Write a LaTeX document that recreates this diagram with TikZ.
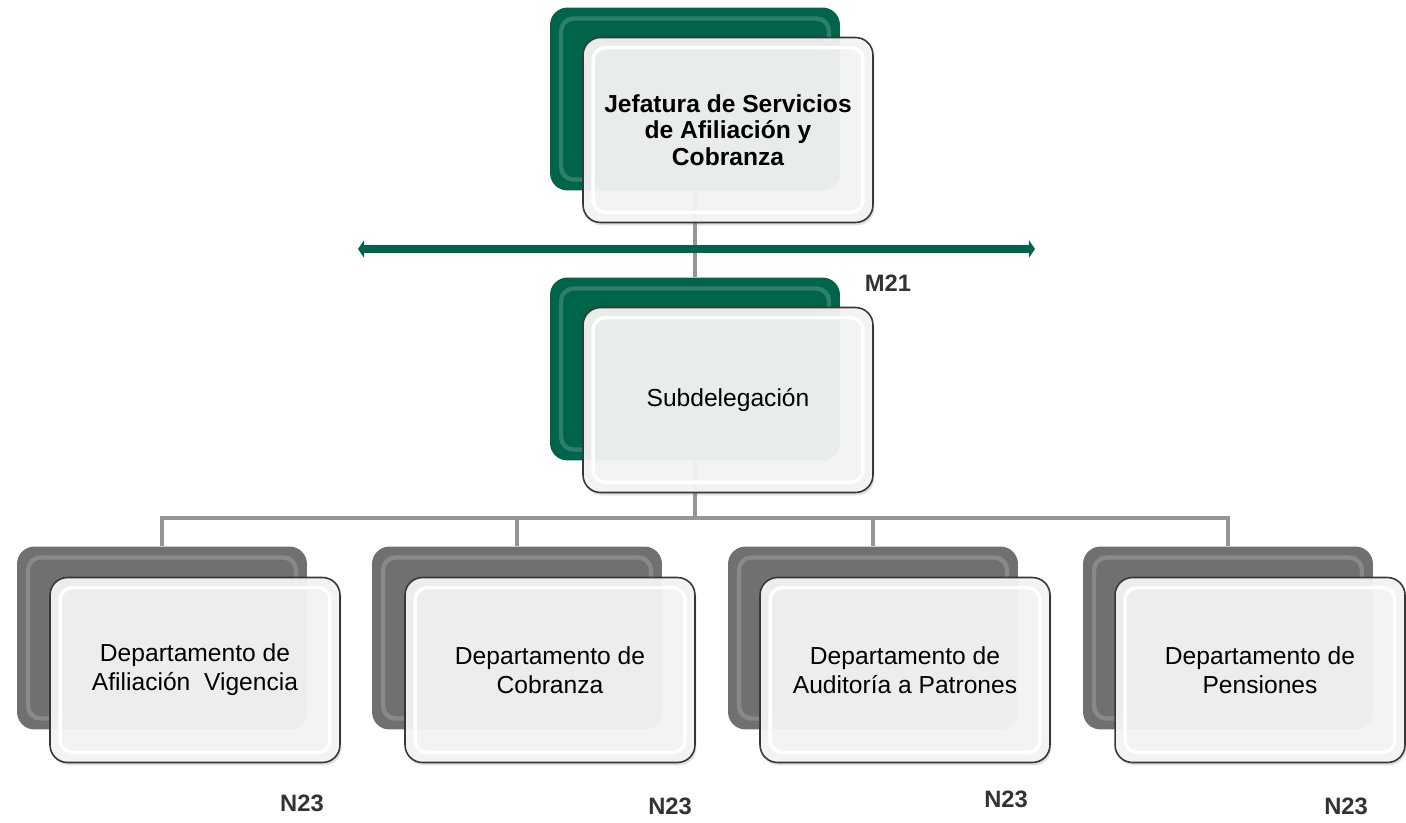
\documentclass[tikz,border=0pt]{standalone}
\usepackage{fontspec}
\setmainfont{Liberation Sans}
\usepackage{xcolor}
\usetikzlibrary{arrows.meta,positioning,calc,shadows}
\pgfdeclarelayer{background}
\pgfsetlayers{background,main}
\definecolor{imssgreen}{RGB}{0,100,74}
\definecolor{backgray}{RGB}{112,112,112}
\definecolor{linkgray}{RGB}{150,150,150}
\definecolor{frontfill}{RGB}{243,244,243}
\definecolor{frontborder}{RGB}{55,55,55}

\begin{document}
\begin{tikzpicture}[x=0.02cm, y=-0.02cm]
    \tikzstyle{back}=[rounded corners=0.35cm, minimum width=5.8cm, minimum height=3.66cm, inner sep=0pt,
        path picture={\draw[white, opacity=0.18, line width=2.5pt, rounded corners=0.25cm]
            ($(path picture bounding box.south west)+(0.22cm,0.22cm)$) rectangle ($(path picture bounding box.north east)+(-0.22cm,-0.22cm)$);}]
    \tikzstyle{front}=[draw=frontborder, line width=0.9pt, rounded corners=0.35cm, minimum width=5.8cm, minimum height=3.7cm,
        fill=frontfill, fill opacity=0.95, text opacity=1, align=center, font=\fontsize{14}{16.5}\selectfont,
        drop shadow={shadow xshift=0.8pt, shadow yshift=-1.6pt, opacity=0.25},
        path picture={\draw[white, line width=2pt, rounded corners=0.25cm]
            ($(path picture bounding box.south west)+(0.2cm,0.2cm)$) rectangle ($(path picture bounding box.north east)+(-0.2cm,-0.2cm)$);}]
    \tikzstyle{level}=[font=\fontsize{13.5}{16}\selectfont\bfseries, text=black!80]
    \tikzstyle{link}=[draw=linkgray, line width=2.3pt]
    \useasboundingbox (0,0) rectangle (1406,822);
    % jefatura y subdelegacion
    \node[back, fill=imssgreen] (jefB) at (695,99) {};
    \node[front, font=\fontsize{14}{15}\selectfont\bfseries] (jef) at (728,130) {Jefatura de Servicios\\de Afiliación y\\Cobranza};
    \node[back, fill=imssgreen] (subB) at (695,369) {};
    \node[front] (sub) at (728,400) {Subdelegación};
    \node[level] (m21) at (888,283) {M21};
    % departamentos
    \node[back, fill=backgray] (afiB) at (162,638) {};
    \node[front] (afi) at (195,670) {Departamento de\\Afiliación\ \ Vigencia};
    \node[back, fill=backgray] (cobB) at (517,638) {};
    \node[front] (cob) at (550,670) {Departamento de\\Cobranza};
    \node[back, fill=backgray] (audB) at (873,638) {};
    \node[front] (aud) at (905,670) {Departamento de\\Auditoría a Patrones};
    \node[back, fill=backgray] (penB) at (1228,638) {};
    \node[front] (pen) at (1260,670) {Departamento de\\Pensiones};
    \node[level] (n23a) at (302,803) {N23};
    \node[level] (n23b) at (670,806) {N23};
    \node[level] (n23c) at (1006,799) {N23};
    \node[level] (n23d) at (1346,806) {N23};
    % barra verde
    \coordinate (barL) at (358,249);
    \coordinate (barR) at (1035,249);
    \draw[imssgreen, line width=5pt, {Triangle[length=3.5pt,width=10pt]}-{Triangle[length=3.5pt,width=10pt]}] (barL) -- (barR);
    % conectores
    \coordinate (bus) at (698,518);
    \begin{pgfonlayer}{background}
        \draw[link] (jefB) -- (subB);
        \draw[link] (subB) -- (subB |- bus) -| (afiB);
        \draw[link] (subB |- bus) -| (cobB);
        \draw[link] (subB |- bus) -| (audB);
        \draw[link] (subB |- bus) -| (penB);
    \end{pgfonlayer}
\end{tikzpicture}
\end{document}
